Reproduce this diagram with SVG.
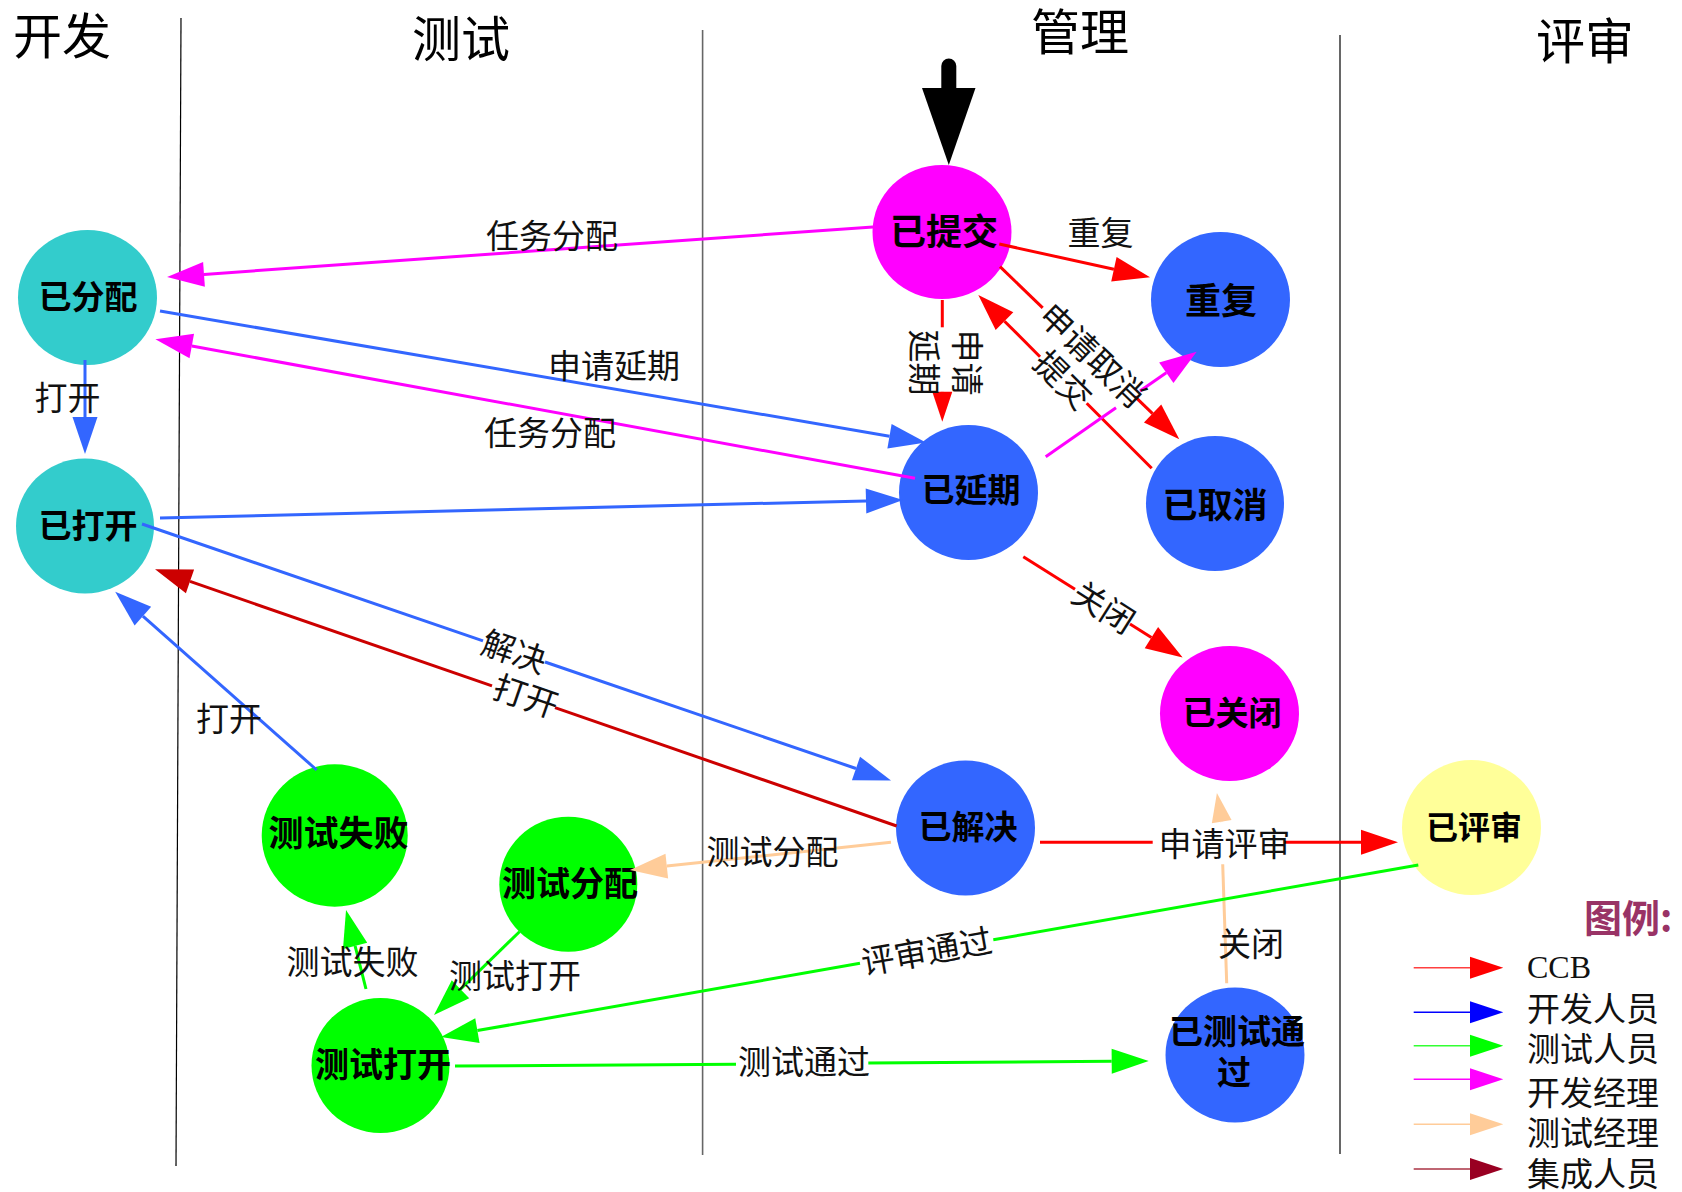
<svg xmlns="http://www.w3.org/2000/svg" width="1682" height="1192" viewBox="0 0 1682 1192">
<style>
.cjk{font-family:"Noto Sans CJK SC","Noto Sans",sans-serif}
.title{font-size:49px;text-anchor:middle;fill:#000}
.nl{font-weight:bold;text-anchor:middle;fill:#000}
.el{font-size:33px;text-anchor:middle;fill:#111}
.lg{font-size:33px;fill:#111}
.lane{stroke:#000;stroke-width:1.2;fill:none}
.e{fill:none;stroke-width:3}
.red{stroke:#ff0000}.blue{stroke:#3366ff}.mag{stroke:#ff00ff}.green{stroke:#00ff00}.peach{stroke:#ffcc99}.dark{stroke:#cc0000}
.cyan{fill:#33cccc}.nb{fill:#3366ff}.nm{fill:#ff00ff}.ng{fill:#00ff00}.ny{fill:#ffff99}
</style>
<defs>
<marker id="mRed" markerUnits="userSpaceOnUse" markerWidth="38" markerHeight="26" refX="0" refY="12.5" orient="auto" overflow="visible"><path d="M0,0L37,12.5L0,25Z" fill="#ff0000"/></marker>
<marker id="mBlue" markerUnits="userSpaceOnUse" markerWidth="38" markerHeight="26" refX="0" refY="12.5" orient="auto" overflow="visible"><path d="M0,0L37,12.5L0,25Z" fill="#3366ff"/></marker>
<marker id="mMag" markerUnits="userSpaceOnUse" markerWidth="38" markerHeight="26" refX="0" refY="12.5" orient="auto" overflow="visible"><path d="M0,0L37,12.5L0,25Z" fill="#ff00ff"/></marker>
<marker id="mGreen" markerUnits="userSpaceOnUse" markerWidth="38" markerHeight="26" refX="0" refY="12.5" orient="auto" overflow="visible"><path d="M0,0L37,12.5L0,25Z" fill="#00ff00"/></marker>
<marker id="mPeach" markerUnits="userSpaceOnUse" markerWidth="38" markerHeight="26" refX="0" refY="12.5" orient="auto" overflow="visible"><path d="M0,0L37,12.5L0,25Z" fill="#ffcc99"/></marker>
<marker id="mDark" markerUnits="userSpaceOnUse" markerWidth="38" markerHeight="26" refX="0" refY="12.5" orient="auto" overflow="visible"><path d="M0,0L37,12.5L0,25Z" fill="#cc0000"/></marker>
<marker id="mRedS" markerUnits="userSpaceOnUse" markerWidth="31" markerHeight="21" refX="0" refY="10" orient="auto" overflow="visible"><path d="M0,0L30,10L0,20Z" fill="#ff0000"/></marker>
<marker id="mPeachS" markerUnits="userSpaceOnUse" markerWidth="31" markerHeight="21" refX="0" refY="10" orient="auto" overflow="visible"><path d="M0,0L29,10L0,20Z" fill="#ffcc99"/></marker>
</defs>
<rect width="1682" height="1192" fill="#fff"/>

<g id="lanes">
<line class="lane" x1="181" y1="18" x2="176" y2="1166"/>
<line class="lane" x1="702.6" y1="30" x2="702.6" y2="1155" style="stroke:#666;stroke-width:1.6"/>
<line class="lane" x1="1340" y1="35" x2="1340" y2="1154"/>
<text class="cjk title" x="62" y="53.6">开发</text>
<text class="cjk title" x="461" y="56.6">测试</text>
<text class="cjk title" x="1080" y="49.6">管理</text>
<text class="cjk title" x="1585" y="58.6">评审</text>
</g>

<g id="node-assigned"><ellipse class="cyan" cx="87.5" cy="297.5" rx="69.5" ry="67.5"/><text class="cjk nl" x="88" y="309.4" font-size="33">已分配</text></g>
<g id="node-opened"><ellipse class="cyan" cx="85" cy="526" rx="69" ry="67.5"/><text class="cjk nl" x="88" y="537.9" font-size="33">已打开</text></g>
<g id="node-submitted"><ellipse class="nm" cx="942" cy="232" rx="69.5" ry="67"/><text class="cjk nl" x="944" y="245" font-size="36">已提交</text></g>
<g id="node-duplicate"><ellipse class="nb" cx="1220.5" cy="299.5" rx="69.5" ry="67.5"/><text class="cjk nl" x="1221" y="313.8" font-size="36">重复</text></g>
<g id="node-postponed"><ellipse class="nb" cx="968.5" cy="492.5" rx="69.5" ry="67.5"/><text class="cjk nl" x="971" y="501.9" font-size="33">已延期</text></g>
<g id="node-cancelled"><ellipse class="nb" cx="1215" cy="503.5" rx="69" ry="67.5"/><text class="cjk nl" x="1215" y="517.6" font-size="35">已取消</text></g>
<g id="node-closed"><ellipse class="nm" cx="1229.5" cy="713.5" rx="69.5" ry="67.5"/><text class="cjk nl" x="1232" y="725.2" font-size="33">已关闭</text></g>
<g id="node-resolved"><ellipse class="nb" cx="965.5" cy="828" rx="69.5" ry="67.5"/><text class="cjk nl" x="968" y="839.4" font-size="33">已解决</text></g>
<g id="node-reviewed"><ellipse class="ny" cx="1471.5" cy="827.5" rx="69.5" ry="67.5"/><text class="cjk nl" x="1474" y="838.5" font-size="32">已评审</text></g>
<g id="node-testpassed"><ellipse class="nb" cx="1235" cy="1055" rx="69.5" ry="67.5"/><text class="cjk nl" font-size="34"><tspan x="1237" y="1044.4">已测试通</tspan><tspan x="1234" y="1084.7">过</tspan></text></g>
<g id="node-testfailed"><ellipse class="ng" cx="334.7" cy="835.5" rx="73" ry="71.2"/><text class="cjk nl" x="338.5" y="845.9" font-size="35">测试失败</text></g>
<g id="node-testassigned"><ellipse class="ng" cx="568.3" cy="884.2" rx="69" ry="67.5"/><text class="cjk nl" x="570" y="895.5" font-size="34">测试分配</text></g>
<g id="node-testopened"><ellipse class="ng" cx="380.5" cy="1065.5" rx="69" ry="67.5"/><text class="cjk nl" x="383" y="1077.2" font-size="34">测试打开</text></g>

<g id="connectors">
<path d="M948.8,66 L948.8,90" stroke="#000" stroke-width="15" stroke-linecap="round" fill="none"/>
<polygon points="922,88 975.5,88 948.8,165" fill="#000"/>

<path class="e mag" d="M873,227 L204,274.4" marker-end="url(#mMag)"/>
<path class="e blue" d="M160,311 L889.5,436.2" marker-end="url(#mBlue)"/>
<path class="e mag" d="M915,478.3 L191.8,346" marker-end="url(#mMag)"/>
<path class="e blue" d="M85,360 L85,417" marker-end="url(#mBlue)"/>
<path class="e blue" d="M160,518 L866,500.9" marker-end="url(#mBlue)"/>
<path class="e blue" d="M142,524 L483,640.8"/>
<path class="e blue" d="M545,662 L856,768.5" marker-end="url(#mBlue)"/>
<path class="e dark" d="M896.7,826 L555,707.7"/>
<path class="e dark" d="M492,685.9 L190,581.4" marker-end="url(#mDark)"/>
<path class="e blue" d="M316.7,770 L142.9,616.2" marker-end="url(#mBlue)"/>
<path class="e red" d="M999.3,244 L1113.9,269.3" marker-end="url(#mRed)"/>
<path class="e red" d="M942.3,300 L942.3,327.3"/>
<path class="e red" d="M942.3,391.6 L942.3,391.7" marker-end="url(#mRedS)"/>
<path class="e red" d="M1000,266.7 L1042.7,307.8"/>
<path class="e red" d="M1135,396.7 L1152.6,413.6" marker-end="url(#mRed)"/>
<path class="e red" d="M1151.7,468.3 L1086.7,403.3"/>
<path class="e red" d="M1040,356.7 L1004.5,321.2" marker-end="url(#mRed)"/>
<path class="e mag" d="M1045.7,456.7 L1116,407.8"/>
<path class="e mag" d="M1140,391.1 L1166.3,372.8" marker-end="url(#mMag)"/>
<path class="e red" d="M1023.3,556.7 L1075,589.3"/>
<path class="e red" d="M1130,624 L1151.4,637.6" marker-end="url(#mRed)"/>
<path class="e red" d="M1040,842.3 L1152.7,842.3"/>
<path class="e red" d="M1285,842.3 L1361,842.3" marker-end="url(#mRed)"/>
<path class="e peach" d="M891,842.3 L666.8,866.1" marker-end="url(#mPeach)"/>
<path class="e peach" d="M1226.7,983.3 L1222.7,864.3"/>
<path class="e peach" d="M1221.75,822 L1221.7,821.7" marker-end="url(#mPeachS)"/>
<path class="e green" d="M1418.3,865 L993.3,939.8"/>
<path class="e green" d="M860,963.3 L477.4,1030.6" marker-end="url(#mGreen)"/>
<path class="e green" d="M455,1066 L736,1064.2"/>
<path class="e green" d="M868.3,1062.9 L1111.7,1061.3" marker-end="url(#mGreen)"/>
<path class="e green" d="M519.5,931.7 L460.5,989.2" marker-end="url(#mGreen)"/>
<path class="e green" d="M366,989 L355.1,945.9" marker-end="url(#mGreen)"/>

<text class="cjk el" x="552" y="247.9">任务分配</text>
<text class="cjk el" x="614" y="377.9">申请延期</text>
<text class="cjk el" x="550" y="444.9">任务分配</text>
<text class="cjk el" x="67.5" y="409.9">打开</text>
<text class="cjk el" x="229" y="730.9">打开</text>
<text class="cjk el" x="1100.5" y="245.2">重复</text>
<text class="cjk el" x="1224.5" y="855.7">申请评审</text>
<text class="cjk el" x="1251" y="955.9">关闭</text>
<text class="cjk el" x="804" y="1073.9">测试通过</text>
<text class="cjk el" x="772.5" y="863.6">测试分配</text>
<text class="cjk el" x="515" y="987.9">测试打开</text>
<text class="cjk el" x="352.5" y="973.6">测试失败</text>
<text class="cjk el" transform="translate(514,652) rotate(18.9)" x="0" y="11.9">解决</text>
<text class="cjk el" transform="translate(525.8,696.5) rotate(19.1)" x="0" y="11.9">打开</text>
<text class="cjk el" transform="translate(1092.5,355.5) rotate(43.9)" x="0" y="11.9">申请取消</text>
<text class="cjk el" transform="translate(1063,380) rotate(45)" x="0" y="11.9">提交</text>
<text class="cjk el" transform="translate(1103.5,607.5) rotate(32.3)" x="0" y="11.9">关闭</text>
<text class="cjk el" transform="translate(926.7,951.6) rotate(-10)" x="0" y="11.9">评审通过</text>
<text class="cjk el" transform="translate(944,362.5) rotate(90)" font-size="30"><tspan x="0" y="-11">申请</tspan><tspan x="0" y="32.3">延期</tspan></text>
</g>

<g id="legend">
<text class="cjk" x="1584" y="932.3" font-size="38" font-weight="bold" fill="#993366">图例:</text>
<line x1="1413.7" y1="967.7" x2="1470" y2="967.7" stroke="#ff4040" stroke-width="1.5"/>
<polygon points="1470,956.7 1503.3,967.7 1470,978.7" fill="#ff0000"/>
<line x1="1413.7" y1="1012.3" x2="1470" y2="1012.3" stroke="#0000ff" stroke-width="1.5"/>
<polygon points="1470,1001.3 1503.3,1012.3 1470,1023.3" fill="#0000ff"/>
<line x1="1413.7" y1="1045.7" x2="1470" y2="1045.7" stroke="#33ff33" stroke-width="1.5"/>
<polygon points="1470,1034.7 1503.3,1045.7 1470,1056.7" fill="#00ff00"/>
<line x1="1413.7" y1="1079.3" x2="1470" y2="1079.3" stroke="#ff00ff" stroke-width="1.5"/>
<polygon points="1470,1068.3 1503.3,1079.3 1470,1090.3" fill="#ff00ff"/>
<line x1="1413.7" y1="1124.3" x2="1470" y2="1124.3" stroke="#ffcc99" stroke-width="1.5"/>
<polygon points="1470,1113.3 1503.3,1124.3 1470,1135.3" fill="#ffcc99"/>
<line x1="1413.7" y1="1169" x2="1470" y2="1169" stroke="#aa3344" stroke-width="1.5"/>
<polygon points="1470,1158 1503.3,1169 1470,1180" fill="#990022"/>
<text x="1527" y="978" font-family="'Liberation Serif',serif" font-size="32" fill="#111">CCB</text>
<text class="cjk lg" x="1527" y="1021">开发人员</text>
<text class="cjk lg" x="1527" y="1061">测试人员</text>
<text class="cjk lg" x="1527" y="1104.7">开发经理</text>
<text class="cjk lg" x="1527" y="1144.7">测试经理</text>
<text class="cjk lg" x="1527" y="1186">集成人员</text>
</g>
</svg>
